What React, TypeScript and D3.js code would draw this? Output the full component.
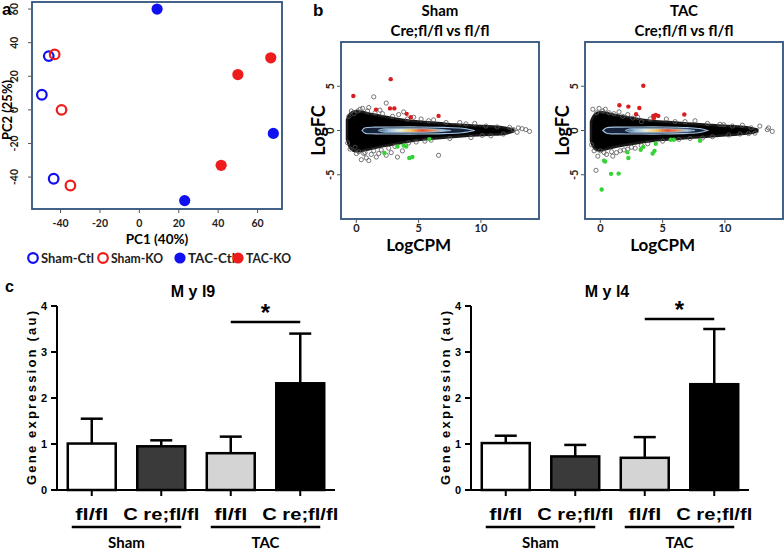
import React, { useRef, useEffect } from "react"
import * as d3 from "d3"

// ---------- panel a : PCA ----------
const pcaTicksX = [-40, -20, 0, 20, 40, 60]
const pcaTicksY = [-40, -20, 0, 20, 40, 60]
const shamCtl = [[-46, 32], [-49.5, 9], [-43.5, -41]]
const shamKO = [[-43, 33], [-39.5, 0], [-35, -45]]
const tacCtl = [[9, 60], [23, -54], [68, -14]]
const tacKO = [[41.5, -33], [50, 21], [66.7, 31]]
const pcaLegend = ["Sham-Ctl", "Sham-KO", "TAC-Ctl", "TAC-KO"]

// ---------- panel b : MA plots ----------
const maTicksX = [0, 5, 10]
const maTicksY = [-5, 0, 5]

const shamCloudX = [-0.75, -0.5, 0, 0.5, 1, 2, 3, 4, 5, 6, 7, 8, 9, 10, 11, 12, 12.6]
const shamCloudHi = [1.2, 2.1, 2.2, 2.1, 1.9, 1.65, 1.4, 1.15, 1.0, 0.9, 0.8, 0.65, 0.6, 0.5, 0.45, 0.35, 0.1]
const shamCloudLo = [-1.0, -2.2, -2.4, -2.3, -2.1, -1.8, -1.55, -1.3, -1.05, -0.95, -0.8, -0.7, -0.6, -0.5, -0.45, -0.4, -0.1]
const shamOut = [[1.4, 3.8], [2.4, 3.1], [1.0, 2.6], [0.5, 2.5], [3.8, 2.1], [3.4, 1.8], [4.6, 1.5], [5.2, 1.3], [6.2, 1.2],
  [7.2, 0.9], [8.3, 0.9], [9.5, 0.8], [10.4, 0.5], [11.3, 0.4], [12.3, 0.35], [13.3, 0.2], [13.9, -0.1], [13.6, 0.1],
  [12.9, -0.2], [11.8, -0.4], [10.8, -0.6], [9.2, -0.8], [7.5, -0.9], [6.6, -2.8], [5.5, -1.2], [4.2, -1.4], [3.3, -3.0],
  [2.8, -2.5], [2.4, -2.8], [2.0, -2.2], [1.6, -3.0], [1.2, -2.7], [0.8, -3.1], [0.6, -2.6], [0.2, -2.4], [-0.1, -1.9],
  [-0.2, 1.9], [0.1, 2.2], [1.8, -2.6], [3.7, -2.3], [0.4, -3.3], [1.0, -3.4], [-0.6, 1.6], [-0.7, -1.4], [12.6, 0.1], [13.0, 0.3],
  [0.3, 2.4], [0.9, 2.2], [1.5, 2.0], [2.1, 1.9], [2.9, 1.6], [4.1, 1.3], [0.0, -2.6], [0.7, -2.5], [1.4, -2.3], [2.6, -2.0],
  [3.1, -1.8], [4.8, -1.3], [6.0, -1.1], [-0.5, -2.1], [-0.4, 2.2], [1.9, 2.3], [5.8, 1.1], [8.8, 0.75], [10.1, -0.55]]
const shamRed = [[-0.24, 3.9], [2.76, 5.8], [1.58, 2.36], [2.7, 2.5], [3.05, 2.5], [4.04, 1.88], [4.37, 1.5], [6.6, 1.65]]
const shamGreen = [[2.25, -2.55], [3.3, -1.8], [3.8, -1.7], [4.0, -1.8], [4.25, -3.1], [4.5, -3.0], [5.86, -0.97]]

const tacCloudX = [-0.75, -0.5, 0, 0.5, 1, 2, 3, 4, 5, 6, 7, 8, 9, 10, 11, 12, 12.6]
const tacCloudHi = [1.0, 1.9, 2.1, 2.0, 1.8, 1.55, 1.3, 1.1, 1.0, 0.9, 0.8, 0.7, 0.6, 0.55, 0.45, 0.35, 0.1]
const tacCloudLo = [-1.2, -2.2, -2.3, -2.1, -1.9, -1.65, -1.4, -1.2, -1.05, -0.95, -0.85, -0.75, -0.65, -0.55, -0.45, -0.35, -0.1]
const tacOut = [[-0.6, 2.4], [-0.3, 2.0], [0.2, 2.2], [0.7, 2.0], [1.1, 1.9], [1.8, 1.6], [2.6, 1.4], [3.3, 1.0], [5.3, 1.3],
  [6.0, 1.0], [7.6, 1.1], [8.6, 0.8], [9.6, 0.7], [10.6, 0.5], [11.4, 0.6], [12.1, 0.3], [12.8, 0.5], [13.4, 0.1], [13.8, -0.1],
  [13.5, 0.3], [12.4, -0.3], [11.2, -0.4], [10.3, -0.5], [9.0, -0.7], [7.2, -0.9], [6.3, -1.0], [5.0, -1.2], [3.8, -1.5],
  [2.8, -2.0], [1.9, -2.2], [1.3, -2.5], [0.5, -2.7], [-0.2, -2.9], [-0.35, -4.5], [-0.7, -1.6], [0.0, -2.3], [1.0, -2.9], [2.5, -1.9],
  [0.4, 2.4], [1.5, 2.1], [2.2, 1.8], [3.0, 1.5], [4.0, 1.3], [0.3, -2.5], [0.9, -2.4], [1.6, -2.3], [2.2, -2.1], [3.3, -1.7],
  [-0.5, -2.3], [-0.1, 2.5], [6.8, 1.0], [8.2, -0.85], [9.9, 0.65], [11.9, -0.35]]
const tacRed = [[3.45, 5.06], [1.53, 2.85], [2.25, 2.7], [3.13, 2.55], [2.87, 1.84], [4.25, 1.65], [4.45, 1.75], [4.65, 1.65], [4.3, 1.4], [6.74, 1.8]]
const tacGreen = [[0.11, -6.66], [0.86, -4.9], [1.47, -4.87], [0.38, -3.5], [0.3, -3.4], [2.25, -3.1], [2.17, -2.47], [3.24, -2.17],
  [3.45, -1.85], [4.2, -2.6], [4.35, -2.3], [4.45, -1.5], [5.65, -1.05], [5.9, -1.05], [8.0, -1.15]]

const shamOuterX = [0.45, 0.7, 1.5, 3, 5, 7, 8.5, 9.5]
const shamOuterH = [0, 0.3, 0.38, 0.4, 0.4, 0.35, 0.25, 0]
const shamInnerX = [1.75, 2.1, 3, 5, 6.5, 7.6]
const shamInnerH = [0, 0.16, 0.2, 0.2, 0.15, 0]
const tacOuterX = [0.2, 0.5, 1.5, 3, 5, 7, 8.0, 8.6]
const tacOuterH = [0, 0.3, 0.38, 0.4, 0.4, 0.33, 0.22, 0]
const tacInnerX = [2.0, 2.3, 3, 5, 6.8, 7.6]
const tacInnerH = [0, 0.16, 0.2, 0.2, 0.14, 0]

// ---------- panel c : bars ----------
const barCats = ["fl/fl", "C re;fl/fl", "fl/fl ", "C re;fl/fl "]
const barFills = ["#ffffff", "#3a3a3a", "#d4d4d4", "#000000"]
const myl9Mean = [1.01, 0.95, 0.8, 2.32]
const myl9Err = [0.54, 0.13, 0.36, 1.08]
const myl4Mean = [1.02, 0.73, 0.7, 2.3]
const myl4Err = [0.16, 0.25, 0.45, 1.2]
const barTicks = [0, 1, 2, 3, 4]

const boxBlue = "#2f527c"

export default function App() {
  const svgRef = useRef(null)

  useEffect(() => {
    const svg = d3.select(svgRef.current)
    svg.selectAll("*").remove()
    const defs = svg.append("defs")
    const lato = "Lato, 'Open Sans', sans-serif"
    const arial = "'Liberation Sans', Arial, sans-serif"

    // ================= panel a =================
    const ax = d3.scaleLinear().domain([-54.5, 72.4]).range([32, 282])
    const ay = d3.scaleLinear().domain([-59, 64.2]).range([209, 2])
    const ga = svg.append("g")
    ga.append("rect").attr("x", 32).attr("y", 2).attr("width", 250).attr("height", 207)
      .attr("fill", "none").attr("stroke", boxBlue).attr("stroke-width", 1.8)
    pcaTicksX.forEach(t => {
      ga.append("line").attr("x1", ax(t)).attr("x2", ax(t)).attr("y1", 210).attr("y2", 213).attr("stroke", "#555")
      ga.append("text").attr("x", ax(t)).attr("y", 227).attr("text-anchor", "middle")
        .attr("font-family", lato).attr("font-weight", 700).attr("font-size", 10.5).attr("fill", "#222").text(t)
    })
    pcaTicksY.forEach(t => {
      ga.append("line").attr("x1", 28).attr("x2", 31).attr("y1", ay(t)).attr("y2", ay(t)).attr("stroke", "#555")
      ga.append("text").attr("transform", `translate(18,${ay(t)}) rotate(-90)`).attr("text-anchor", "middle")
        .attr("font-family", lato).attr("font-weight", 700).attr("font-size", 10.5).attr("fill", "#222").text(t)
    })
    ga.append("text").attr("x", 157).attr("y", 244).attr("text-anchor", "middle")
      .attr("font-family", lato).attr("font-weight", 700).attr("font-size", 13.5).text("PC1 (40%)")
    ga.append("text").attr("transform", "translate(12,110) rotate(-90)").attr("text-anchor", "middle")
      .attr("font-family", lato).attr("font-weight", 700).attr("font-size", 13).text("PC2 (25%)")
    ga.append("text").attr("x", 2).attr("y", 15).attr("font-family", arial).attr("font-weight", 700)
      .attr("font-size", 17).text("a")

    const blue = "#1010f0", red = "#ee1c1c"
    const groups = [
      { d: shamCtl, c: blue, open: true },
      { d: shamKO, c: red, open: true },
      { d: tacCtl, c: blue, open: false },
      { d: tacKO, c: red, open: false },
    ]
    groups.forEach(gr => {
      ga.selectAll(null).data(gr.d).enter().append("circle")
        .attr("cx", d => ax(d[0])).attr("cy", d => ay(d[1]))
        .attr("r", gr.open ? 4.8 : 5.6)
        .attr("fill", gr.open ? "none" : gr.c)
        .attr("stroke", gr.c).attr("stroke-width", gr.open ? 2.2 : 0)
    })
    // legend
    const legX = [33, 103, 180, 238]
    const legW = [53, 52, 47, 45]
    pcaLegend.forEach((name, i) => {
      const gr = groups[i]
      ga.append("circle").attr("cx", legX[i]).attr("cy", 258).attr("r", gr.open ? 4.8 : 5.6)
        .attr("fill", gr.open ? "none" : gr.c).attr("stroke", gr.c).attr("stroke-width", gr.open ? 2.2 : 0)
      ga.append("text").attr("x", legX[i] + 8).attr("y", 263).attr("font-family", lato)
        .attr("font-weight", 700).attr("font-size", 14).attr("fill", "#222")
        .attr("textLength", legW[i]).attr("lengthAdjust", "spacingAndGlyphs").text(name)
    })

    // ================= panel b =================
    svg.append("text").attr("x", 313).attr("y", 16).attr("font-family", arial).attr("font-weight", 700)
      .attr("font-size", 17).text("b")

    function drawMA(left, title, cx, chi, clo, out, reds, greens, oX, oH, iX, iH, id, grad) {
      const w = 198
      const x = d3.scaleLinear().domain([-1.23, 14.66]).range([left, left + w])
      const y = d3.scaleLinear().domain([-10, 10]).range([219, 42])
      const g = svg.append("g")
      const clipId = "clip" + id
      defs.append("clipPath").attr("id", clipId).append("rect")
        .attr("x", left).attr("y", 42).attr("width", w).attr("height", 177)

      const inner = g.append("g").attr("clip-path", `url(#${clipId})`)
      const cloud = cx.map((v, i) => ({ x: v, hi: chi[i], lo: clo[i] }))
      inner.append("path").datum(cloud)
        .attr("d", d3.area().x(d => x(d.x)).y0(d => y(d.lo)).y1(d => y(d.hi)).curve(d3.curveBasis))
        .attr("fill", "#000").attr("stroke", "#1a1a1a").attr("stroke-width", 2.5)
      inner.selectAll(null).data(out).enter().append("circle")
        .attr("cx", d => x(d[0])).attr("cy", d => y(d[1])).attr("r", 2.1)
        .attr("fill", "none").attr("stroke", "#555").attr("stroke-width", 0.8)

      // density contours
      const gr = defs.append("linearGradient").attr("id", "grad" + id)
      grad.forEach(s => gr.append("stop").attr("offset", s[0]).attr("stop-color", s[1]))
      const outer = oX.map((v, i) => ({ x: v, h: oH[i] }))
      const inn = iX.map((v, i) => ({ x: v, h: iH[i] }))
      const band = d3.area().x(d => x(d.x)).y0(d => y(-d.h)).y1(d => y(d.h)).curve(d3.curveCatmullRom)
      inner.append("path").datum(outer).attr("d", band)
        .attr("fill", "#14233a").attr("stroke", "#a7c4e2").attr("stroke-width", 1.1)
      inner.append("path").datum(inn).attr("d", band)
        .attr("fill", `url(#grad${id})`).attr("stroke", "#a7c4e2").attr("stroke-width", 0.9)

      inner.selectAll(null).data(reds).enter().append("circle")
        .attr("cx", d => x(d[0])).attr("cy", d => y(d[1])).attr("r", 2.2).attr("fill", "#d81e1e")
      inner.selectAll(null).data(greens).enter().append("circle")
        .attr("cx", d => x(d[0])).attr("cy", d => y(d[1])).attr("r", 2.2).attr("fill", "#35d435")

      g.append("rect").attr("x", left).attr("y", 42).attr("width", w).attr("height", 177)
        .attr("fill", "none").attr("stroke", boxBlue).attr("stroke-width", 1.8)

      maTicksX.forEach(t => {
        g.append("line").attr("x1", x(t)).attr("x2", x(t)).attr("y1", 220).attr("y2", 223).attr("stroke", "#555")
        g.append("text").attr("x", x(t)).attr("y", 232).attr("text-anchor", "middle")
          .attr("font-family", lato).attr("font-weight", 700).attr("font-size", 11).attr("fill", "#222").text(t)
      })
      maTicksY.forEach(t => {
        g.append("line").attr("x1", left - 4).attr("x2", left - 1).attr("y1", y(t)).attr("y2", y(t)).attr("stroke", "#555")
        g.append("text").attr("transform", `translate(${left - 7},${y(t)}) rotate(-90)`).attr("text-anchor", "middle")
          .attr("font-family", lato).attr("font-weight", 700).attr("font-size", 11).attr("fill", "#222").text(t)
      })
      g.append("text").attr("transform", `translate(${left - 16},${y(0)}) rotate(-90)`).attr("text-anchor", "middle")
        .attr("font-family", lato).attr("font-weight", 700).attr("font-size", 18).text("LogFC")
      g.append("text").attr("x", x(5)).attr("y", 251).attr("text-anchor", "middle")
        .attr("font-family", lato).attr("font-weight", 700).attr("font-size", 17).text("LogCPM")
      g.append("text").attr("x", left + w / 2).attr("y", 16).attr("text-anchor", "middle")
        .attr("font-family", lato).attr("font-weight", 700).attr("font-size", 15).text(title)
      g.append("text").attr("x", left + w / 2).attr("y", 36).attr("text-anchor", "middle")
        .attr("font-family", lato).attr("font-weight", 700).attr("font-size", 15).text("Cre;fl/fl vs fl/fl")
    }

    const gradStops = [[0, "#2b4a6e"], [0.15, "#9cc3e0"], [0.3, "#eef0d6"], [0.45, "#f6c75a"], [0.6, "#e8482a"],
      [0.75, "#f08a4a"], [0.88, "#a8c8e0"], [1, "#2b4a6e"]]
    drawMA(341, "Sham", shamCloudX, shamCloudHi, shamCloudLo, shamOut, shamRed, shamGreen,
      shamOuterX, shamOuterH, shamInnerX, shamInnerH, "s", gradStops)
    drawMA(585, "TAC", tacCloudX, tacCloudHi, tacCloudLo, tacOut, tacRed, tacGreen,
      tacOuterX, tacOuterH, tacInnerX, tacInnerH, "t", gradStops)

    // ================= panel c =================
    svg.append("text").attr("x", 5).attr("y", 292).attr("font-family", arial).attr("font-weight", 700)
      .attr("font-size", 16).text("c")

    function drawBars(axisX, title, means, errs, sigVal) {
      const g = svg.append("g")
      const y = d3.scaleLinear().domain([0, 4]).range([490, 306])
      const x = d3.scaleBand().domain(barCats).range([axisX, axisX + 278]).paddingInner(0.31).paddingOuter(0.155)
      const bw = x.bandwidth()
      const centre = c => x(c) + bw / 2

      g.selectAll(null).data(barCats).enter().append("rect")
        .attr("x", d => x(d)).attr("width", bw)
        .attr("y", (d, i) => y(means[i])).attr("height", (d, i) => y(0) - y(means[i]))
        .attr("fill", (d, i) => barFills[i]).attr("stroke", "#000").attr("stroke-width", 2.5)
      barCats.forEach((c, i) => {
        const cx = centre(c)
        const top = y(means[i] + errs[i])
        g.append("line").attr("x1", cx).attr("x2", cx).attr("y1", y(means[i])).attr("y2", top)
          .attr("stroke", "#000").attr("stroke-width", 2.5)
        g.append("line").attr("x1", cx - 11).attr("x2", cx + 11).attr("y1", top).attr("y2", top)
          .attr("stroke", "#000").attr("stroke-width", 2.5)
        g.append("line").attr("x1", cx).attr("x2", cx).attr("y1", 490).attr("y2", 496)
          .attr("stroke", "#000").attr("stroke-width", 2)
        g.append("text").attr("x", cx).attr("y", 520).attr("text-anchor", "middle")
          .attr("font-family", arial).attr("font-weight", 700).attr("font-size", 17)
          .attr("textLength", c.trim() === "fl/fl" ? 33 : 76).attr("lengthAdjust", "spacingAndGlyphs")
          .text(c.trim())
      })
      // axes
      g.append("line").attr("x1", axisX).attr("x2", axisX).attr("y1", y(4)).attr("y2", y(0))
        .attr("stroke", "#000").attr("stroke-width", 2)
      g.append("line").attr("x1", axisX - 1).attr("x2", axisX + 278).attr("y1", y(0)).attr("y2", y(0))
        .attr("stroke", "#000").attr("stroke-width", 2)
      barTicks.forEach(t => {
        g.append("line").attr("x1", axisX - 6).attr("x2", axisX).attr("y1", y(t)).attr("y2", y(t))
          .attr("stroke", "#000").attr("stroke-width", 2)
        g.append("text").attr("x", axisX - 10).attr("y", y(t) + 4).attr("text-anchor", "end")
          .attr("font-family", arial).attr("font-weight", 700).attr("font-size", 11).text(t)
      })
      g.append("text").attr("transform", `translate(${axisX - 21},398) rotate(-90)`).attr("text-anchor", "middle")
        .attr("font-family", arial).attr("font-weight", 700).attr("font-size", 13)
        .attr("textLength", 174).attr("lengthAdjust", "spacing").text("Gene expression (au)")
      g.append("text").attr("x", (centre(barCats[1]) + centre(barCats[2])) / 2 - 3).attr("y", 297)
        .attr("text-anchor", "middle")
        .attr("font-family", arial).attr("font-weight", 700).attr("font-size", 16).text(title)

      // significance
      const c3 = centre(barCats[2]), c4 = centre(barCats[3])
      g.append("line").attr("x1", c3).attr("x2", c4).attr("y1", y(sigVal)).attr("y2", y(sigVal))
        .attr("stroke", "#000").attr("stroke-width", 2.5)
      g.append("text").attr("x", (c3 + c4) / 2).attr("y", y(sigVal) - 1).attr("text-anchor", "middle")
        .attr("font-family", arial).attr("font-weight", 700).attr("font-size", 24).text("*")

      // group labels
      const groupsC = [["Sham", 0, 1], ["TAC", 2, 3]]
      groupsC.forEach(([name, a, b]) => {
        const x1 = centre(barCats[a]) - 20, x2 = centre(barCats[b]) + 20
        g.append("line").attr("x1", x1).attr("x2", x2).attr("y1", 527).attr("y2", 527)
          .attr("stroke", "#000").attr("stroke-width", 2.5)
        g.append("text").attr("x", (x1 + x2) / 2).attr("y", 548).attr("text-anchor", "middle")
          .attr("font-family", lato).attr("font-weight", 700).attr("font-size", 15).text(name)
      })
    }

    drawBars(57, "M y l9", myl9Mean, myl9Err, 3.65)
    drawBars(471, "M y l4", myl4Mean, myl4Err, 3.72)
  }, [])

  return (
    <svg ref={svgRef} width={784} height={552}
      style={{ position: "absolute", left: 0, top: 0, background: "#fff" }} />
  )
}
